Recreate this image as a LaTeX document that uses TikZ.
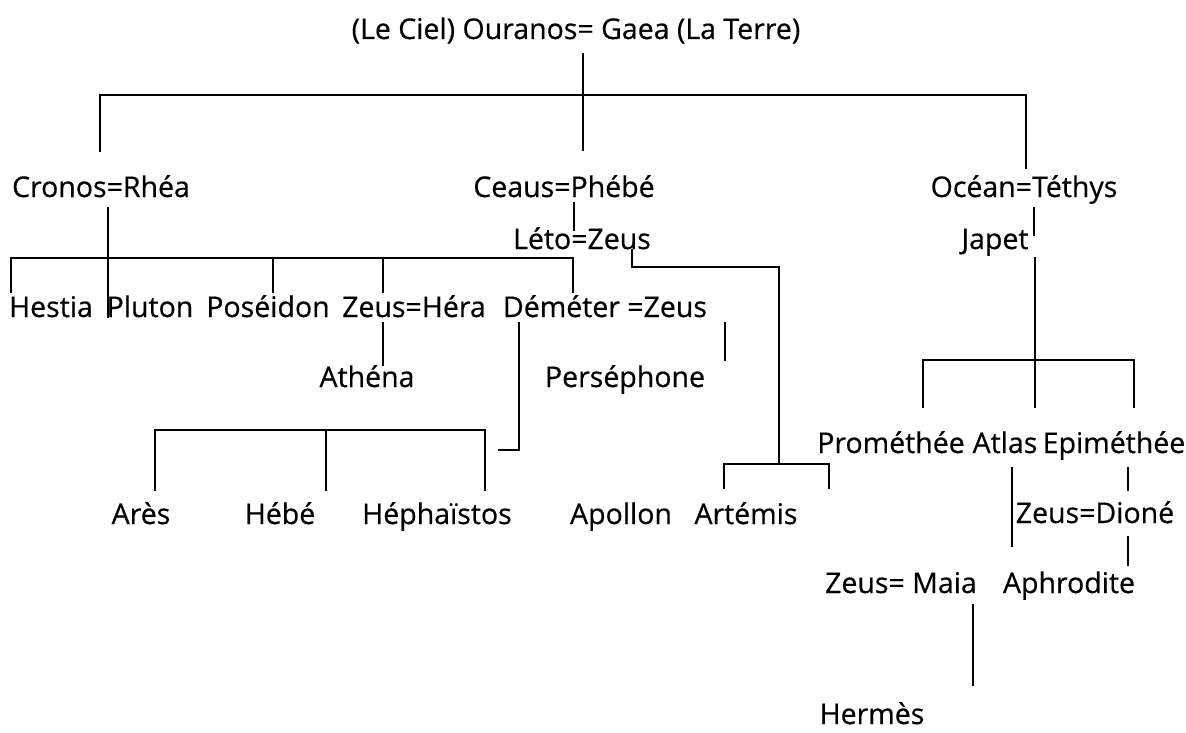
\documentclass[tikz,border=0pt]{standalone}
\usepackage{fontspec}
\newfontfamily\godfont{Open Sans}[BoldFont={Open Sans}, BoldFeatures={FakeBold=0.5}]
\usepackage{tikz}
\usetikzlibrary{positioning}

\begin{document}
\begin{tikzpicture}[
    x=1pt, y=-1pt,
    god/.style={inner sep=0pt, anchor=base, font=\godfont\bfseries\fontsize{28.5}{34}\selectfont},
    tie/.style={line width=1.6pt, line cap=rect}
]
\useasboundingbox (0,0) rectangle (1186,733);

\node[god] (ouranos) at (576,39) {(Le Ciel) Ouranos= Gaea (La Terre)};

\node[god] (cronos) at (101,197) {Cronos=Rhéa};
\node[god] (ceaus) at (564,197) {Ceaus=Phébé};
\node[god] (ocean) at (1024,197) {Océan=Téthys};
\node[god] (leto) at (582,249) {Léto=Zeus};
\node[god] (japet) at (995,249) {Japet};

\node[god] (hestia) at (51,317) {Hestia};
\node[god] (pluton) at (150,317) {Pluton};
\node[god] (poseidon) at (268,317) {Poséidon};
\node[god] (zeushera) at (414,317) {Zeus=Héra};
\node[god] (demeter) at (605,317) {Déméter =Zeus};
\node[god] (athena) at (367,387) {Athéna};
\node[god] (persephone) at (625,387) {Perséphone};

\node[god] (ares) at (141,524) {Arès};
\node[god] (hebe) at (280,524) {Hébé};
\node[god] (hephaistos) at (437,524) {Héphaïstos};
\node[god] (apollon) at (621,524) {Apollon};
\node[god] (artemis) at (746,524) {Artémis};

\node[god] (promethee) at (891,453) {Prométhée};
\node[god] (atlas) at (1005,453) {Atlas};
\node[god] (epimethee) at (1114,453) {Epiméthée};
\node[god] (zeusdione) at (1095,523) {Zeus=Dioné};
\node[god] (zeusmaia) at (901,593) {Zeus= Maia};
\node[god] (aphrodite) at (1069,593) {Aphrodite};
\node[god] (hermes) at (872,724) {Hermès};

\coordinate (root-a) at (583,54);
\coordinate (root-b) at (583,150);
\coordinate (bar1-w) at (100,95);
\coordinate (bar1-e) at (1026,95);
\coordinate (cronos-in) at (100,151);
\coordinate (ocean-in) at (1026,168);

\coordinate (cronos-out) at (108,208);
\coordinate (pluton-in) at (108,317);
\coordinate (bar2-w) at (11,258);
\coordinate (bar2-e) at (573,258);
\coordinate (hestia-in) at (11,292);
\coordinate (poseidon-top) at (273,258);
\coordinate (poseidon-in) at (273,292);
\coordinate (zeus-top) at (383,258);
\coordinate (zeus-in) at (383,292);
\coordinate (demeter-in) at (573,292);

\coordinate (ceaus-out) at (574,203);
\coordinate (leto-in) at (574,230);
\coordinate (leto-out) at (632,250);
\coordinate (leto-turn) at (779,267);
\coordinate (twins-mid) at (779,464);
\coordinate (twins-w) at (724,464);
\coordinate (twins-e) at (829,464);
\coordinate (apollon-in) at (724,488);
\coordinate (artemis-in) at (829,488);

\coordinate (zeus-out) at (383,323);
\coordinate (athena-in) at (383,365);
\coordinate (demeter-out) at (519,323);
\coordinate (demeter-turn) at (519,450);
\coordinate (demeter-end) at (499,450);
\coordinate (kids-w) at (155,430);
\coordinate (kids-e) at (485,430);
\coordinate (kids-mid) at (326,430);
\coordinate (ares-in) at (155,490);
\coordinate (hebe-in) at (326,490);
\coordinate (hephaistos-in) at (485,490);
\coordinate (zeus2-a) at (725,323);
\coordinate (zeus2-b) at (725,360);

\coordinate (ocean-out) at (1034,208);
\coordinate (japet-in) at (1034,235);
\coordinate (japet-out) at (1035,258);
\coordinate (sons-mid) at (1035,360);
\coordinate (sons-w) at (923,360);
\coordinate (sons-e) at (1134,360);
\coordinate (promethee-in) at (923,407);
\coordinate (atlas-in) at (1035,407);
\coordinate (epimethee-in) at (1134,407);
\coordinate (atlas-out) at (1012,468);
\coordinate (maia-in) at (1012,546);
\coordinate (epimethee-out) at (1128,468);
\coordinate (dione-in) at (1128,490);
\coordinate (dione-out) at (1128,537);
\coordinate (aphrodite-in) at (1128,565);
\coordinate (maia-out) at (973,605);
\coordinate (hermes-in) at (973,685);

\draw[tie] (root-a) -- (root-b);
\draw[tie] (cronos-in) -- (bar1-w) -- (bar1-e) -- (ocean-in);

\draw[tie] (cronos-out) -- (pluton-in);
\draw[tie] (hestia-in) -- (bar2-w) -- (bar2-e) -- (demeter-in);
\draw[tie] (poseidon-top) -- (poseidon-in);
\draw[tie] (zeus-top) -- (zeus-in);

\draw[tie] (ceaus-out) -- (leto-in);
\draw[tie] (leto-out) |- (leto-turn) -- (twins-mid);
\draw[tie] (apollon-in) -- (twins-w) -- (twins-e) -- (artemis-in);

\draw[tie] (zeus-out) -- (athena-in);
\draw[tie] (demeter-out) -- (demeter-turn) -- (demeter-end);
\draw[tie] (ares-in) -- (kids-w) -- (kids-e) -- (hephaistos-in);
\draw[tie] (kids-mid) -- (hebe-in);
\draw[tie] (zeus2-a) -- (zeus2-b);

\draw[tie] (ocean-out) -- (japet-in);
\draw[tie] (japet-out) -- (atlas-in);
\draw[tie] (promethee-in) -- (sons-w) -- (sons-e) -- (epimethee-in);
\draw[tie] (atlas-out) -- (maia-in);
\draw[tie] (epimethee-out) -- (dione-in);
\draw[tie] (dione-out) -- (aphrodite-in);
\draw[tie] (maia-out) -- (hermes-in);
\end{tikzpicture}
\end{document}
